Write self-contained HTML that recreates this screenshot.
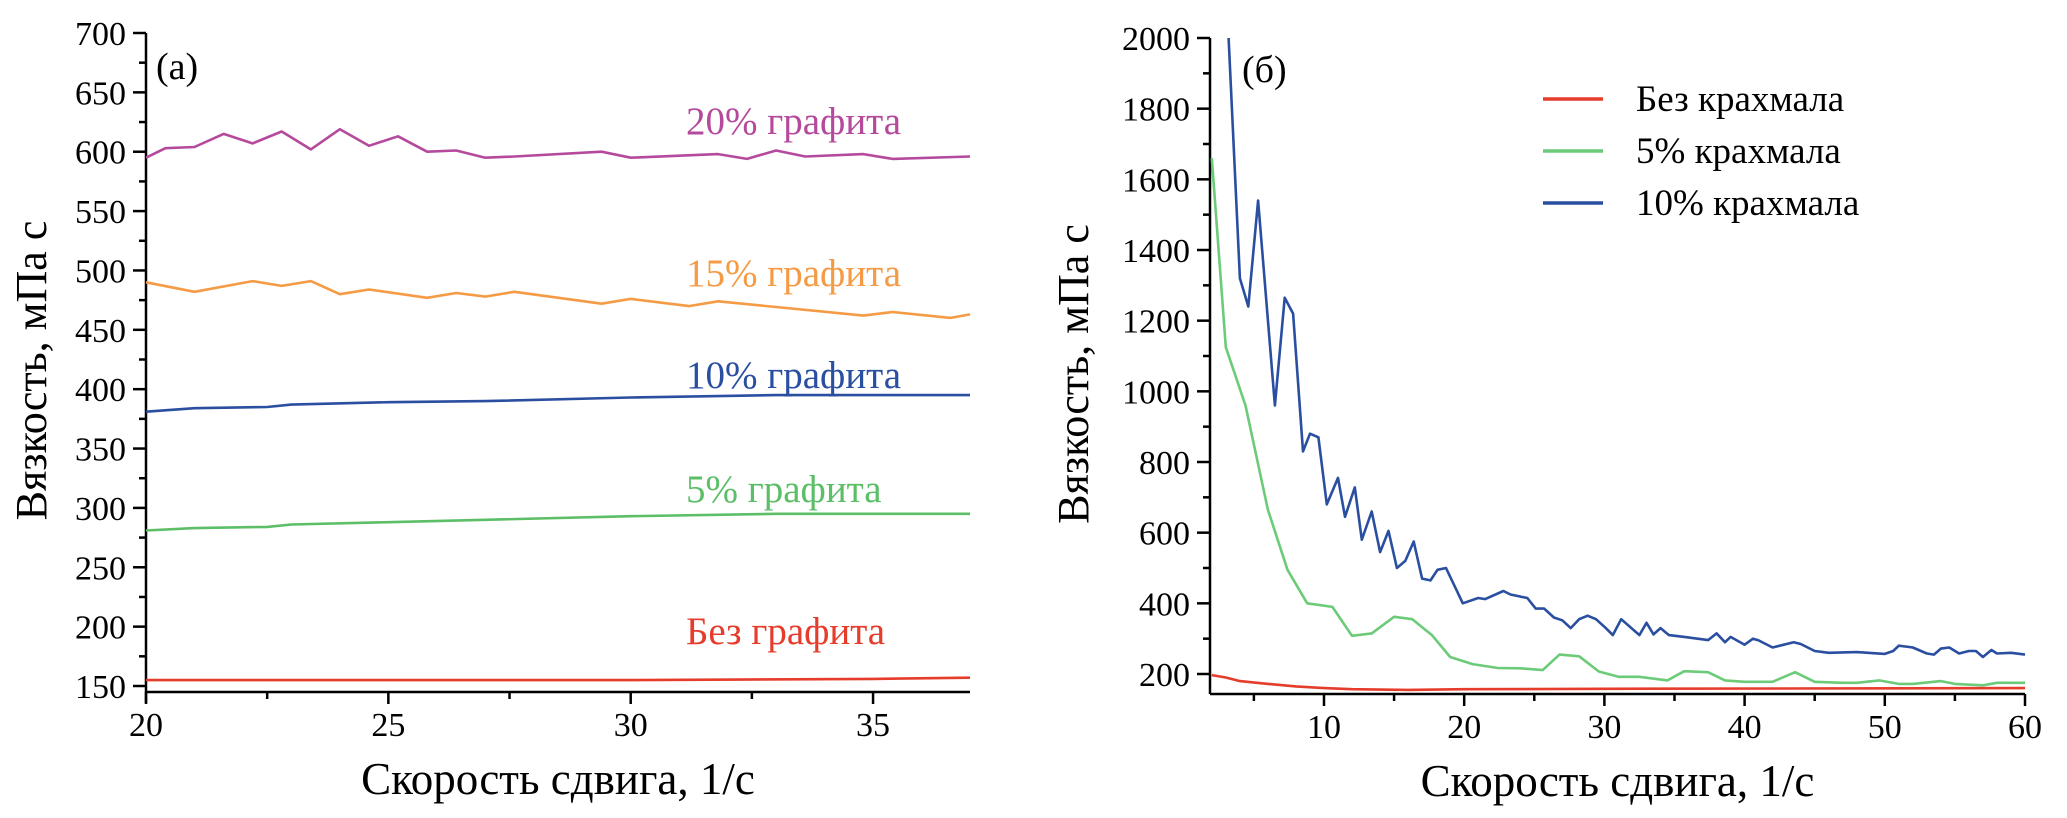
<!DOCTYPE html>
<html><head><meta charset="utf-8"><style>
html,body{margin:0;padding:0;background:#fff;}
svg{display:block;font-family:"Liberation Serif",serif;}
svg text{font-family:"Liberation Serif","Noto Serif CJK SC",serif;}
</style></head><body>
<svg id="chart" width="2067" height="818" viewBox="0 0 2067 818" xmlns="http://www.w3.org/2000/svg"></svg>
<script>
// Panel (a) data
const aX20=[20,20.4,21,21.6,22.2,22.8,23.4,24,24.6,25.2,25.8,26.4,27,27.6,29.4,30,31.8,32.4,33,33.6,34.8,35.4,37];
const aY20=[595,603,604,615,607,617,602,619,605,613,600,601,595,596,600,595,598,594,601,596,598,594,596];
const aX15=[20,21,22.2,22.8,23.4,24,24.6,25.8,26.4,27,27.6,29.4,30,31.2,31.8,34.8,35.4,36.6,37];
const aY15=[490,482,491,487,491,480,484,477,481,478,482,472,476,470,474,462,465,460,463];
const aX10=[20,21,22.5,23,25,27,30,33,37];
const aY10=[381,384,385,387,389,390,393,395,395];
const aX5=[20,21,22.5,23,25,27,30,33,37];
const aY5=[281,283,284,286,288,290,293,295,295];
const aX0=[20,25,30,35,37];
const aY0=[155,155,155,156,157];
const aXTicks=[20,25,30,35];
const aYTicks=[150,200,250,300,350,400,450,500,550,600,650,700];
// Panel (b) data
const bXBlue=[3.2,4,4.6,5.3,6.5,7.2,7.8,8.5,9,9.6,10.2,11,11.5,12.2,12.7,13.4,14,14.6,15.2,15.8,16.4,17,17.6,18.1,18.7,19.9,21,21.5,22.8,23.3,24.5,25.1,25.7,26.4,27,27.6,28.2,28.8,29.4,30.1,30.6,31.2,32.5,33,33.5,34,34.6,35.7,37.4,38,38.6,39,40,40.6,41,42,43.5,44,45,46,48,50,50.6,51,52,53,53.5,54,54.6,55.3,56,56.5,57,57.6,58,59,60];
const bYBlue=[2000,1320,1240,1540,960,1265,1220,830,880,870,680,755,645,728,580,660,545,605,500,520,575,470,465,495,500,400,415,412,435,425,415,385,385,360,352,330,355,365,355,330,310,355,310,345,312,330,310,305,296,315,290,305,283,300,295,275,290,285,265,260,262,257,265,280,275,258,255,272,275,258,265,265,248,268,258,260,255];
const bXGreen=[2,3,4.4,6,7.4,8.8,10.6,12,13.4,15,16.3,17.7,19,20.6,22.4,24,25.6,26.8,28.2,29.6,31,32.5,34.5,35.7,37.4,38.6,40,42,43.6,45,47,48,49.6,51,52,54,55,57,58,60];
const bYGreen=[1660,1125,960,665,495,400,390,308,315,362,355,310,248,228,217,216,211,255,250,207,192,192,182,208,205,182,178,178,205,178,175,175,182,172,172,180,172,168,175,175];
const bXRed=[2,3,4,6,8,10,12,16,20,30,60];
const bYRed=[197,190,180,172,165,160,157,155,157,158,160];
const bXTicks=[10,20,30,40,50,60];
const bYTicks=[200,400,600,800,1000,1200,1400,1600,1800,2000];

const NS="http://www.w3.org/2000/svg";
const svg=document.getElementById('chart');
function mk(tag,attrs,parent,text){const e=document.createElementNS(NS,tag);for(const k in attrs)e.setAttribute(k,attrs[k]);if(text!==undefined)e.textContent=text;(parent||svg).appendChild(e);return e;}

function panel(cfg){
  const g=mk('g',{});
  
  
  const sx=v=>cfg.x0+(v-cfg.xmin)/(cfg.xmax-cfg.xmin)*(cfg.x1-cfg.x0);
  const sy=v=>cfg.yb-(v-cfg.yminV)/(cfg.ymax-cfg.yminV)*(cfg.yb-cfg.y0);
  const ax=mk('path',{d:`M${cfg.x0},${cfg.y0} L${cfg.x0},${cfg.y1+(cfg.ext||0)} M${cfg.x0},${cfg.y1} L${cfg.x1},${cfg.y1}`,fill:'none',stroke:'#000','stroke-width':2.5},g);
  
  
  for(let v=cfg.ymin0;v<=cfg.ymax+1e-6;v+=cfg.yminor){
    const major=cfg.yTicks.includes(v);
    mk('line',{x1:cfg.x0-(major?13:7),x2:cfg.x0,y1:sy(v),y2:sy(v),stroke:'#000','stroke-width':2.5},g);
  }
  cfg.yTicks.forEach(v=>{
    const t=mk('text',{x:cfg.x0-20,y:sy(v)+12,'text-anchor':'end','font-size':34},g,String(v));
    
    
  });
  for(let v=cfg.xminor0;v<=cfg.xmax+1e-6;v+=cfg.xminor){
    const major=cfg.xTicks.includes(v);
    mk('line',{x1:sx(v),x2:sx(v),y1:cfg.y1,y2:cfg.y1+(major?12:7),stroke:'#000','stroke-width':2.5},g);
  }
  cfg.xTicks.forEach(v=>{
    const t=mk('text',{x:sx(v),y:cfg.y1+44,'text-anchor':'middle','font-size':34},g,String(v));
    
    
  });
  const xt=mk('text',{x:(cfg.x0+cfg.x1)/2,y:cfg.y1+102,'text-anchor':'middle','font-size':45},g,'Скорость сдвига, 1/с');
  
  
  const yt=mk('text',{x:0,y:0,'text-anchor':'middle','font-size':44,transform:`translate(${cfg.ytx},${(cfg.y0+cfg.y1)/2+8}) rotate(-90)`},g,'Вязкость, мПа с');
  
  
  const pl=mk('text',{x:cfg.plx,y:cfg.ply,'font-size':38},g,cfg.label);
  
  
  cfg.series.forEach(s=>{
    const d=s.xs.map((x,i)=>(i?'L':'M')+sx(x).toFixed(1)+','+sy(s.ys[i]).toFixed(1)).join(' ');
    const p=mk('path',{d:d,fill:'none',stroke:s.color,'stroke-width':2.6,'stroke-linejoin':'round'},g);
    
    
  });
  return g;
}

const ga=panel({name:'panel-a',x0:146,x1:970,y0:33,yb:686,y1:692,ext:11,xmin:20,xmax:37,yminV:150,ymax:700,ymin0:150,yminor:25,xminor0:20,xminor:2.5,
  xTicks:aXTicks,yTicks:aYTicks,ytx:46,label:'(a)',plx:156,ply:79,
  series:[{name:'line-20-graphite',xs:aX20,ys:aY20,color:'#b54a9d'},{name:'line-15-graphite',xs:aX15,ys:aY15,color:'#f59b45'},
  {name:'line-10-graphite',xs:aX10,ys:aY10,color:'#2a4ea0'},{name:'line-5-graphite',xs:aX5,ys:aY5,color:'#5cbf68'},{name:'line-no-graphite',xs:aX0,ys:aY0,color:'#e63c2c'}]});
[['20% графита','#b54a9d',134,'label-20-graphite'],['15% графита','#f59b45',286,'label-15-graphite'],['10% графита','#2a4ea0',388,'label-10-graphite'],['5% графита','#5cbf68',502,'label-5-graphite'],['Без графита','#e63c2c',644,'label-no-graphite']].forEach(a=>{
  const t=mk('text',{x:686,y:a[2],'font-size':39,fill:a[1]},ga,a[0]);
  
  
});

const gb=panel({name:'panel-b',x0:1210,x1:2025,y0:38,yb:674,y1:694,ext:0,xmin:1.87,xmax:60,yminV:200,ymax:2000,ymin0:200,yminor:100,xminor0:5,xminor:5,
  xTicks:bXTicks,yTicks:bYTicks,ytx:1088,label:'(б)',plx:1242,ply:82,
  series:[{name:'line-10-starch',xs:bXBlue,ys:bYBlue,color:'#2a4ea0'},{name:'line-5-starch',xs:bXGreen,ys:bYGreen,color:'#6ccb78'},{name:'line-no-starch',xs:bXRed,ys:bYRed,color:'#e63c2c'}]});
const leg=mk('g',{},gb);


[['Без крахмала','#e63c2c',99],['5% крахмала','#6ccb78',151],['10% крахмала','#2a4ea0',203]].forEach(a=>{
  const e=mk('g',{},leg);
  
  
  mk('line',{x1:1543,x2:1603,y1:a[2],y2:a[2],stroke:a[1],'stroke-width':3.5},e);
  mk('text',{x:1636,y:a[2]+12,'font-size':37},e,a[0]);
});
</script>
</body></html>
